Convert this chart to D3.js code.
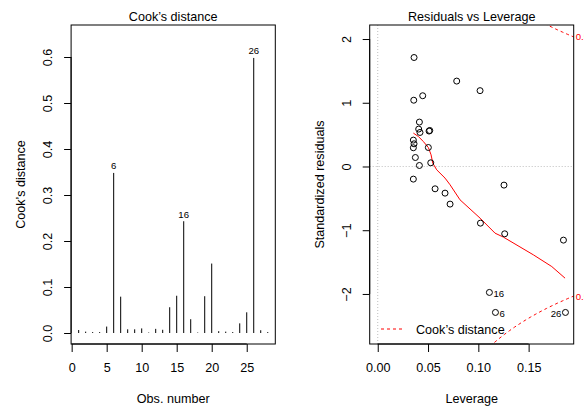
<!DOCTYPE html>
<html>
<head>
<meta charset="utf-8">
<script src="https://cdn.jsdelivr.net/npm/d3@7/dist/d3.min.js"></script>
<style>
  html, body { margin: 0; padding: 0; background: #fff; }
  svg { display: block; font-family: "Liberation Sans", Arial, Helvetica, sans-serif; }
</style>
</head>
<body>
<div id="chart"></div>
<script>
// ---- data ----
const obsNumber = d3.range(1, 29);
const cookDist = [0.0065, 0.003, 0.002, 0.002, 0.014, 0.348, 0.079, 0.008, 0.008, 0.010,
                  0.001, 0.009, 0.007, 0.056, 0.081, 0.243, 0.030, 0.001, 0.080, 0.151,
                  0.004, 0.003, 0.002, 0.021, 0.045, 0.598, 0.006, 0.002];
const cookLabelled = [6, 16, 26];
const cookTicksX = [0, 5, 10, 15, 20, 25];
const cookTicksY = [0, 0.1, 0.2, 0.3, 0.4, 0.5, 0.6];

const leverage = [0.0361, 0.0785, 0.1017, 0.0358, 0.0447, 0.0414, 0.0407, 0.0420, 0.0517, 0.0510,
                  0.0354, 0.0361, 0.0354, 0.0503, 0.0374, 0.0527, 0.0414, 0.0354, 0.0570, 0.0669,
                  0.0719, 0.1255, 0.1021, 0.1262, 0.1846, 0.1110, 0.1170, 0.1866];
const stdResid = [1.71, 1.34, 1.19, 1.04, 1.11, 0.697, 0.587, 0.534, 0.565, 0.556,
                  0.414, 0.356, 0.294, 0.298, 0.141, 0.058, 0.016, -0.198, -0.350, -0.418,
                  -0.590, -0.292, -0.889, -1.056, -1.155, -1.976, -2.29, -2.29];
const pointLabels = ["", "", "", "", "", "", "", "", "", "",
                     "", "", "", "", "", "", "", "", "", "",
                     "", "", "", "", "", "16", "6", "26"];
const smoothLev = [0.0354, 0.0404, 0.0453, 0.0503, 0.0530, 0.0547, 0.0586, 0.0669, 0.0719,
                   0.0818, 0.1017, 0.1166, 0.1249, 0.1547, 0.1730, 0.1862];
const smoothRes = [0.524, 0.471, 0.392, 0.298, 0.184, 0.053, -0.052, -0.182, -0.287,
                   -0.523, -0.810, -1.046, -1.108, -1.386, -1.570, -1.752];
const levTicks = [0, 0.05, 0.10, 0.15];
const resTicks = [-2, -1, 0, 1, 2];
const cookLevels = [0.5];
const nParams = 2;

const W = 584, H = 407;
const svg = d3.select("#chart").append("svg").attr("width", W).attr("height", H);

const fs = 12.6;

function frame(x, y, title, xlab, ylab) {
  const [x0, x1] = x.range(), [y0, y1] = y.range();
  svg.append("rect")
    .attr("x", x0).attr("y", y1).attr("width", x1 - x0).attr("height", y0 - y1)
    .attr("fill", "none").attr("stroke", "#000").attr("stroke-width", 1);
  svg.append("text")
    .attr("x", (x0 + x1) / 2).attr("y", 20.5)
    .attr("text-anchor", "middle").style("font-size", fs + "px")
    .text(title);
  svg.append("text")
    .attr("x", (x0 + x1) / 2).attr("y", 403)
    .attr("text-anchor", "middle").style("font-size", fs + "px")
    .text(xlab);
  svg.append("text")
    .attr("transform", `translate(${x0 - 46},${(y0 + y1) / 2}) rotate(-90)`)
    .attr("text-anchor", "middle").style("font-size", fs + "px")
    .text(ylab);
}

function axes(x, y, xt, yt, xfmt, yfmt) {
  const [x0] = x.range(), [y0] = y.range();
  const gx = svg.append("g")
    .attr("transform", `translate(0,${y0})`)
    .call(d3.axisBottom(x).tickValues(xt).tickSize(8).tickPadding(11).tickFormat(xfmt));
  gx.select(".domain").attr("d", `M${x(xt[0])},0H${x(xt[xt.length - 1])}`);
  gx.selectAll("text").style("font-size", fs + "px").style("font-family", null);
  const gy = svg.append("g")
    .attr("transform", `translate(${x0},0)`)
    .call(d3.axisLeft(y).tickValues(yt).tickSize(7).tickFormat(yfmt));
  gy.select(".domain").attr("d", `M0,${y(yt[0])}V${y(yt[yt.length - 1])}`);
  gy.selectAll("text")
    .attr("x", null).attr("dy", null)
    .attr("transform", "translate(-19,0) rotate(-90)")
    .attr("text-anchor", "middle")
    .style("font-size", fs + "px").style("font-family", null);
}

// ---- left panel: Cook's distance ----
const xc = d3.scaleLinear().domain([-0.08, 29.08]).range([71.1, 275.3]);
const yc = d3.scaleLinear().domain([-0.0239, 0.6696]).range([344, 25]);

frame(xc, yc, "Cook\u2019s distance", "Obs. number", "Cook\u2019s distance");
axes(xc, yc, cookTicksX, cookTicksY, d3.format("d"), d3.format(".1f"));

svg.append("g").selectAll("line")
  .data(obsNumber)
  .join("line")
  .attr("x1", d => xc(d)).attr("x2", d => xc(d))
  .attr("y1", yc(0)).attr("y2", (d, i) => yc(cookDist[i]))
  .attr("stroke", "#000").attr("stroke-width", 1);

svg.append("g").selectAll("text")
  .data(cookLabelled)
  .join("text")
  .attr("x", d => xc(d)).attr("y", d => yc(cookDist[d - 1]) - 3.5)
  .attr("text-anchor", "middle").style("font-size", "9.6px")
  .text(d => d);

// ---- right panel: Residuals vs Leverage ----
const xr = d3.scaleLinear().domain([-0.008, 0.1948]).range([369.7, 573.7]);
const yr = d3.scaleLinear().domain([-2.785, 2.22]).range([344, 25]);

svg.append("clipPath").attr("id", "clipR")
  .append("rect").attr("x", 369.7).attr("y", 25).attr("width", 204).attr("height", 319);

const plotR = svg.append("g").attr("clip-path", "url(#clipR)");

plotR.append("line")
  .attr("x1", xr.range()[0]).attr("x2", xr.range()[1])
  .attr("y1", yr(0)).attr("y2", yr(0))
  .attr("stroke", "#bebebe").attr("stroke-dasharray", "1,2");
plotR.append("line")
  .attr("x1", xr(0)).attr("x2", xr(0))
  .attr("y1", yr.range()[0]).attr("y2", yr.range()[1])
  .attr("stroke", "#bebebe").attr("stroke-dasharray", "1,2");

// Cook's distance contours (reference curves)
const hh = d3.range(101).map(i => d3.min(leverage) + i * (xr.domain()[1] - d3.min(leverage)) / 100);
cookLevels.forEach(lv => {
  [1, -1].forEach(sgn => {
    const pts = hh.map(h => [h, sgn * Math.sqrt(lv * nParams * (1 - h) / h)]);
    plotR.append("path")
      .attr("d", d3.line().x(d => xr(d[0])).y(d => yr(d[1]))(pts))
      .attr("fill", "none").attr("stroke", "#ff0000")
      .attr("stroke-dasharray", "3,3");
    const edge = xr.domain()[1];
    svg.append("text")
      .attr("x", xr.range()[1] + 2)
      .attr("y", yr(sgn * Math.sqrt(lv * nParams * (1 - edge) / edge)) + 3.5)
      .attr("fill", "#ff0000").style("font-size", "9.6px")
      .text(lv);
  });
});

plotR.append("path")
  .attr("d", d3.line().x((d, i) => xr(d)).y((d, i) => yr(smoothRes[i]))(smoothLev))
  .attr("fill", "none").attr("stroke", "#ff0000").attr("stroke-width", 1);

plotR.append("g").selectAll("circle")
  .data(leverage)
  .join("circle")
  .attr("cx", d => xr(d)).attr("cy", (d, i) => yr(stdResid[i]))
  .attr("r", 3).attr("fill", "none").attr("stroke", "#000").attr("stroke-width", 1);

svg.append("g").selectAll("text")
  .data(leverage.map((d, i) => ({ h: d, r: stdResid[i], lab: pointLabels[i] })).filter(d => d.lab))
  .join("text")
  .attr("x", d => d.h > 0.15 ? xr(d.h) - 4 : xr(d.h) + 4)
  .attr("y", d => yr(d.r) + 5)
  .attr("text-anchor", d => d.h > 0.15 ? "end" : "start")
  .style("font-size", "9.6px")
  .text(d => d.lab);

frame(xr, yr, "Residuals vs Leverage", "Leverage", "Standardized residuals");
axes(xr, yr, levTicks, resTicks, d3.format(".2f"), d3.format("d"));

// legend
svg.append("line")
  .attr("x1", 381).attr("x2", 402).attr("y1", 329).attr("y2", 329)
  .attr("stroke", "#ff0000").attr("stroke-dasharray", "3,3");
svg.append("text")
  .attr("x", 416).attr("y", 333.5).style("font-size", fs + "px")
  .text("Cook\u2019s distance");
</script>
</body>
</html>
